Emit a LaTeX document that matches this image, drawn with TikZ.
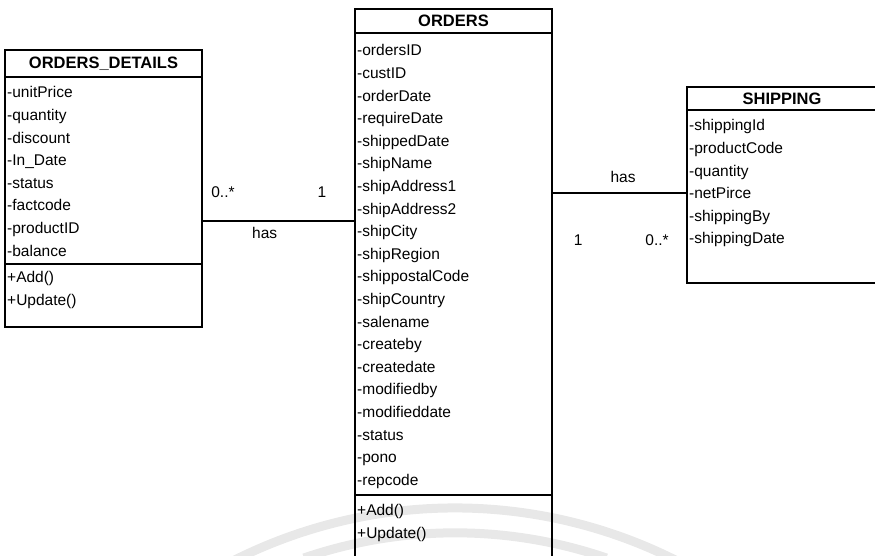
\documentclass[tikz,border=0pt]{standalone}
\usepackage{fontspec}
\setmainfont{Liberation Sans}
\usetikzlibrary{positioning,calc}

\begin{document}
\begin{tikzpicture}[
  x=1pt, y=-1pt,
  every node/.style={font=\fontsize{15.5}{22.6}\selectfont},
  classtitle/.style={draw, line width=1.3pt, outer sep=0pt, inner sep=0pt,
    minimum width=#1, font=\fontsize{16.5}{22.6}\selectfont\bfseries},
  compartment/.style={draw, line width=1.3pt, outer sep=0pt, inner sep=0pt,
    minimum width=#1},
  members/.style={align=left, inner xsep=2pt, inner ysep=0pt},
  assoc/.style={line width=1.3pt},
  mult/.style={inner sep=0pt},
  watermark/.style={gray!18, line width=9pt},
]
\useasboundingbox (0,0) rectangle (875,555);

% faint scan watermark
\draw[watermark] (234.7,560) arc[start angle=116.6, end angle=63.4, radius=492pt];
\draw[watermark] (303.9,558) arc[start angle=108.9, end angle=71.1, radius=467pt];

% ORDERS_DETAILS
\node[classtitle=197pt, minimum height=27pt, anchor=north west] (odtitle) at (5,50) {ORDERS\_DETAILS};
\node[compartment=197pt, minimum height=187pt, below=0pt of odtitle] (odattr) {};
\node[compartment=197pt, minimum height=63pt, below=0pt of odattr] (odops) {};
\node[members, below right=9.4pt and 0pt of odattr.north west] (odattrlist)
  {-unitPrice\\-quantity\\-discount\\-In\_Date\\-status\\-factcode\\-productID\\-balance};
\node[members, below right=7.4pt and 0pt of odops.north west] (odopslist)
  {+Add()\\+Update()};

% ORDERS
\node[classtitle=197pt, minimum height=24pt, anchor=north west] (ordtitle) at (355,9) {ORDERS};
\node[compartment=197pt, minimum height=462pt, below=0pt of ordtitle] (ordattr) {};
\node[compartment=197pt, minimum height=75pt, below=0pt of ordattr] (ordops) {};
\node[members, below right=11.4pt and 0pt of ordattr.north west] (ordattrlist)
  {-ordersID\\-custID\\-orderDate\\-requireDate\\-shippedDate\\-shipName\\-shipAddress1\\-shipAddress2\\-shipCity\\-shipRegion\\-shippostalCode\\-shipCountry\\-salename\\-createby\\-createdate\\-modifiedby\\-modifieddate\\-status\\-pono\\-repcode};
\node[members, below right=9.4pt and 0pt of ordops.north west] (ordopslist)
  {+Add()\\+Update()};

% SHIPPING
\node[classtitle=190pt, minimum height=23pt, anchor=north west] (shiptitle) at (687,87) {SHIPPING};
\node[compartment=190pt, minimum height=173pt, below=0pt of shiptitle] (shipattr) {};
\node[members, below right=9.4pt and 0pt of shipattr.north west] (shipattrlist)
  {-shippingId\\-productCode\\-quantity\\-netPirce\\-shippingBy\\-shippingDate};

% associations
\coordinate (odlink) at ($(odattr.north east)+(0,144)$);
\coordinate (shiplink) at ($(shipattr.west)+(0,-3.5)$);
\draw[assoc] (odlink) -- (odlink -| ordattr.west)
  node[mult, pos=0.137, yshift=29pt] (odmany) {0..*}
  node[mult, pos=0.784, yshift=29pt] (odone) {1}
  node[mult, pos=0.41, yshift=-12pt] (odhas) {has};
\draw[assoc] (shiplink -| ordattr.east) -- (shiplink)
  node[mult, pos=0.526, yshift=16pt] (shiphas) {has}
  node[mult, pos=0.193, yshift=-47pt] (shipone) {1}
  node[mult, pos=0.778, yshift=-47pt] (shipmany) {0..*};
\end{tikzpicture}
\end{document}
